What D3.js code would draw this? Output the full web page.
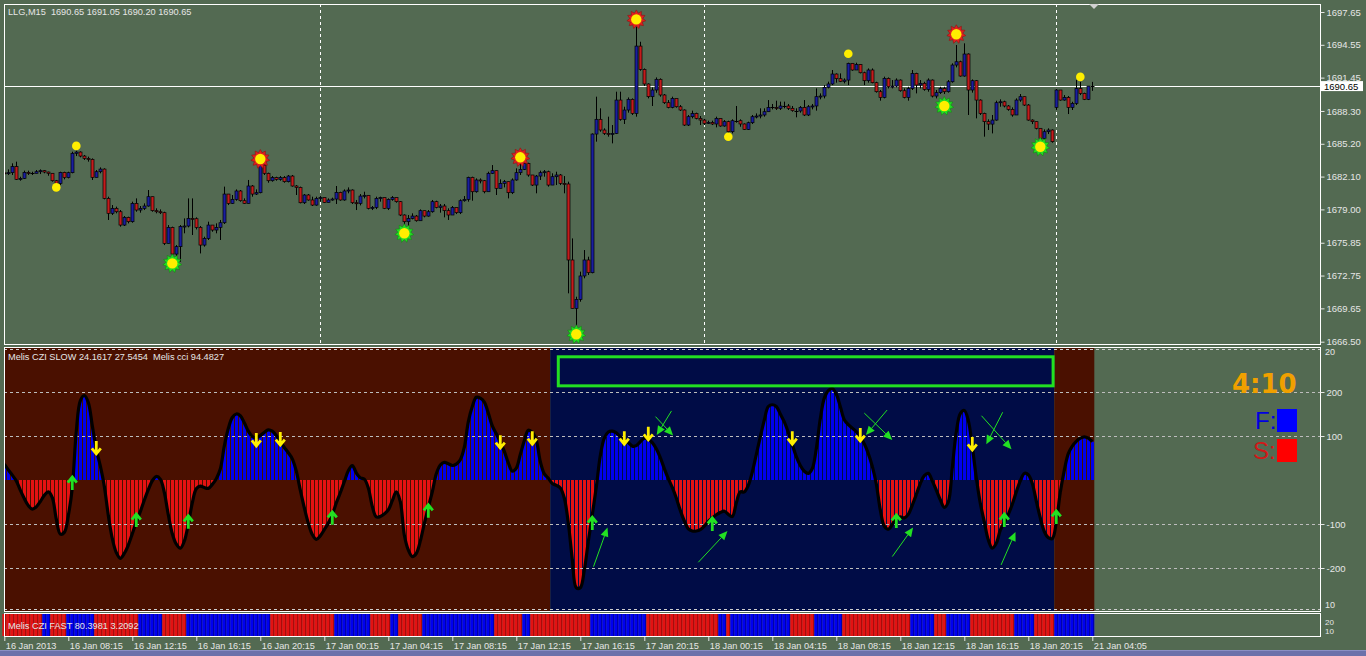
<!DOCTYPE html>
<html><head><meta charset="utf-8">
<script src="https://cdn.jsdelivr.net/npm/d3@7"></script>
<style>
html,body{margin:0;padding:0;background:#536a52;overflow:hidden}
svg{display:block}
</style></head><body>
<svg id="c" width="1366" height="656"></svg>
<script>
// ---------- DATA ----------
const headerText = "LLG,M15  1690.65 1691.05 1690.20 1690.65";
const slowText = "Melis CZI SLOW 24.1617 27.5454  Melis cci 94.4827";
const fastText = "Melis CZI FAST 80.3981 3.2092";
const currentPrice = 1690.65;
const firstOpen = 1682.45;
const openGaps = [[263, 1688.64]];

const closes = [
1682.41,1682.47,1683.04,1681.84,1681.93,1682.50,1682.41,1682.41,1682.56,1682.66,
1682.53,1682.41,1681.71,1681.46,1682.50,1682.00,1682.47,1684.30,1684.42,1684.04,
1683.82,1683.73,1682.03,1682.56,1682.81,1680.04,1678.63,1679.10,1678.78,1677.52,
1678.25,1677.84,1679.57,1678.94,1679.10,1679.32,1680.20,1678.88,1678.78,1678.69,
1675.79,1677.30,1674.78,1675.48,1677.37,1677.43,1678.15,1678.12,1677.30,1675.63,
1676.26,1677.52,1677.05,1677.30,1677.74,1680.45,1679.57,1679.95,1680.74,1679.82,
1679.57,1681.21,1680.45,1680.58,1683.19,1682.41,1681.71,1682.00,1681.84,1682.00,
1681.62,1682.15,1681.21,1681.08,1679.63,1680.36,1679.89,1679.41,1680.04,1680.11,
1679.66,1679.89,1679.98,1680.61,1679.89,1680.74,1680.83,1679.63,1679.57,1680.26,
1680.33,1679.10,1679.19,1680.04,1680.11,1679.10,1679.95,1680.11,1679.73,1678.47,
1677.84,1678.15,1678.37,1677.93,1678.88,1678.37,1678.78,1679.73,1679.19,1679.32,
1678.88,1678.47,1679.19,1678.69,1679.82,1679.95,1682.03,1680.67,1681.78,1681.71,
1680.67,1682.41,1682.66,1680.99,1681.46,1681.62,1680.58,1681.78,1682.47,1682.78,
1683.35,1682.25,1681.30,1682.15,1682.47,1682.56,1681.30,1682.09,1682.25,1681.46,
1681.40,1674.22,1669.65,1670.50,1672.71,1674.22,1673.02,1686.12,1687.51,1686.50,
1686.18,1686.12,1686.18,1689.33,1687.51,1688.39,1689.40,1688.07,1694.43,1692.23,
1690.85,1689.65,1690.28,1691.29,1689.81,1689.08,1688.64,1689.49,1688.70,1688.39,
1686.97,1687.76,1688.07,1687.60,1687.44,1687.13,1687.22,1687.07,1687.60,1686.88,
1687.29,1686.34,1687.38,1687.38,1687.07,1686.56,1687.19,1687.76,1687.82,1687.92,
1688.23,1688.64,1688.64,1688.55,1688.77,1688.77,1688.55,1688.33,1688.30,1688.64,
1687.92,1688.70,1688.77,1689.65,1689.71,1690.53,1690.85,1691.79,1691.35,1691.10,
1691.22,1692.80,1692.17,1692.70,1691.91,1691.16,1692.17,1690.97,1690.12,1689.58,
1691.38,1690.59,1690.65,1691.22,1690.21,1689.58,1690.43,1691.85,1690.75,1690.91,
1690.34,1691.22,1689.71,1690.03,1690.43,1690.12,1691.06,1692.64,1692.95,1691.60,
1693.68,1690.28,1691.16,1689.33,1688.07,1687.29,1687.06,1687.44,1689.08,1689.17,
1688.77,1688.45,1687.92,1689.33,1689.65,1688.86,1687.44,1687.29,1686.66,1685.71,
1686.34,1686.50,1685.40,1690.28,1689.33,1689.58,1688.64,1689.02,1690.43,1689.96,
1689.40,1690.65,1690.65];

const highs = [
1682.72,1682.78,1683.35,1683.51,1682.09,1682.66,1682.66,1682.56,1682.72,1682.78,
1682.72,1682.56,1682.41,1681.78,1682.56,1682.56,1682.56,1684.45,1684.55,1684.48,
1684.14,1683.98,1683.82,1682.72,1682.97,1682.88,1680.20,1679.41,1679.26,1678.94,
1678.37,1678.31,1679.73,1680.04,1679.32,1679.57,1680.83,1680.20,1679.10,1679.00,
1678.78,1677.52,1677.37,1675.63,1677.52,1678.15,1680.04,1680.04,1678.25,1677.43,
1676.42,1677.84,1677.52,1677.68,1678.00,1681.15,1680.45,1680.36,1680.89,1680.83,
1680.04,1681.78,1681.30,1680.89,1683.51,1683.35,1682.47,1682.15,1682.09,1682.15,
1682.15,1682.25,1682.25,1681.30,1681.15,1680.45,1680.45,1680.20,1680.20,1680.26,
1680.11,1680.04,1680.11,1681.21,1680.67,1680.89,1681.08,1680.89,1679.89,1680.45,
1680.67,1680.36,1679.32,1680.20,1680.20,1680.04,1680.04,1680.26,1680.11,1679.79,
1678.53,1678.47,1678.63,1678.47,1679.00,1678.88,1678.94,1679.89,1679.82,1679.51,
1679.51,1679.10,1679.32,1679.19,1679.95,1680.26,1682.09,1682.09,1681.93,1681.93,
1681.78,1682.56,1683.19,1682.56,1681.84,1681.78,1681.62,1681.93,1682.88,1683.51,
1683.44,1683.41,1682.25,1682.25,1682.66,1682.72,1682.66,1682.41,1682.56,1682.34,
1682.15,1681.62,1676.26,1670.75,1673.12,1675.16,1674.53,1686.18,1689.65,1688.55,
1686.66,1687.76,1686.97,1690.12,1690.12,1688.70,1689.58,1689.49,1696.26,1694.84,
1692.32,1690.91,1690.53,1691.47,1691.38,1689.90,1689.33,1689.65,1689.49,1688.86,
1688.45,1687.92,1688.33,1688.14,1687.82,1687.60,1687.38,1687.38,1687.76,1687.38,
1687.44,1687.38,1687.51,1688.77,1687.51,1687.13,1687.29,1687.92,1688.07,1688.55,
1688.55,1689.33,1688.96,1689.27,1689.18,1689.18,1688.96,1688.77,1688.55,1688.77,
1689.33,1688.86,1688.96,1690.43,1689.96,1690.75,1691.07,1692.17,1691.85,1691.85,
1691.38,1692.86,1692.73,1692.86,1692.73,1692.01,1692.32,1692.32,1691.06,1690.28,
1691.54,1691.47,1691.22,1691.38,1691.28,1690.43,1690.59,1692.17,1691.91,1691.22,
1691.06,1691.38,1691.28,1690.28,1690.59,1690.59,1691.22,1692.80,1694.53,1693.05,
1694.69,1693.74,1691.28,1691.22,1689.40,1688.14,1687.51,1687.92,1689.27,1689.40,
1689.27,1688.86,1688.64,1689.49,1689.90,1689.65,1688.95,1687.51,1687.29,1686.50,
1686.56,1686.66,1686.56,1690.43,1690.28,1689.80,1689.71,1689.17,1691.22,1691.06,
1690.03,1690.65,1691.05];

const lows = [
1682.09,1682.25,1682.25,1681.78,1681.71,1681.87,1682.25,1682.25,1682.41,1682.34,
1682.41,1682.18,1681.62,1681.30,1681.30,1681.84,1681.93,1682.41,1684.04,1683.92,
1683.67,1683.51,1681.78,1682.09,1682.41,1679.95,1678.00,1678.47,1678.63,1677.37,
1677.43,1677.68,1677.74,1678.78,1678.69,1678.94,1679.26,1678.78,1678.63,1678.56,
1675.63,1675.79,1673.90,1674.06,1674.06,1676.74,1677.30,1676.58,1677.11,1674.84,
1675.48,1676.11,1676.89,1676.74,1676.11,1677.62,1679.41,1679.51,1679.82,1679.73,
1679.51,1679.57,1680.20,1680.36,1680.52,1682.25,1681.52,1681.62,1681.71,1681.71,
1681.52,1681.55,1681.15,1680.36,1679.57,1679.51,1679.82,1679.32,1679.35,1679.73,
1679.60,1679.73,1679.82,1679.51,1679.82,1679.82,1680.52,1679.51,1678.94,1679.38,
1680.04,1679.00,1678.94,1679.03,1679.73,1679.03,1678.94,1679.82,1679.63,1678.37,
1677.52,1677.37,1678.06,1677.84,1678.00,1678.25,1678.31,1678.69,1679.10,1678.69,
1678.25,1678.00,1678.47,1678.56,1678.56,1679.73,1679.73,1679.82,1680.58,1681.46,
1680.52,1680.67,1682.34,1680.36,1680.99,1681.08,1680.04,1680.45,1681.71,1682.25,
1682.72,1682.09,1681.21,1680.52,1681.78,1682.09,1681.15,1681.30,1681.30,1681.30,
1680.52,1671.07,1669.65,1667.76,1670.28,1672.49,1672.80,1672.96,1685.40,1686.34,
1686.03,1685.87,1685.24,1686.12,1687.38,1687.07,1688.14,1687.92,1687.76,1692.10,
1690.66,1689.49,1688.77,1690.02,1689.65,1688.96,1688.55,1688.55,1688.61,1688.30,
1686.88,1686.88,1687.60,1687.51,1686.97,1686.97,1687.07,1686.97,1686.75,1686.81,
1686.81,1686.25,1686.18,1687.19,1686.81,1686.50,1686.50,1687.07,1687.60,1687.60,
1687.76,1688.23,1688.45,1688.39,1688.39,1688.55,1688.39,1688.23,1687.70,1688.14,
1687.82,1687.82,1688.45,1688.33,1689.40,1689.49,1690.43,1690.75,1690.97,1691.03,
1690.91,1690.75,1692.10,1692.17,1691.85,1690.75,1690.97,1690.91,1690.03,1689.27,
1689.49,1690.43,1690.43,1690.53,1690.12,1689.49,1689.27,1690.28,1689.96,1690.43,
1690.21,1690.12,1689.58,1689.49,1689.90,1689.90,1690.03,1690.97,1692.42,1691.54,
1691.54,1687.92,1690.03,1687.60,1687.92,1685.87,1686.50,1686.18,1687.38,1688.70,
1688.64,1688.32,1687.76,1688.07,1689.17,1688.77,1687.38,1687.06,1686.56,1685.55,
1685.49,1686.12,1685.30,1688.40,1689.27,1689.27,1688.01,1688.39,1688.86,1689.80,
1689.33,1689.33,1690.20];

// CZI SLOW oscillator value per bar
const osc = [
36,23,11,-2,-23,-42,-58,-66,-61,-49,
-35,-27,-40,-89,-123,-119,-81,-17,111,180,
192,176,123,70,32,-14,-80,-133,-165,-178,
-167,-148,-122,-95,-72,-46,-22,-2,8,2,
-28,-79,-122,-146,-155,-139,-100,-52,-20,-14,
-17,-19,-10,3,25,77,117,142,150,146,
130,111,99,96,101,108,114,111,101,87,
74,62,48,20,-23,-63,-98,-124,-135,-127,
-113,-98,-79,-52,-29,-4,21,33,16,5,
2,-18,-60,-84,-83,-77,-68,-47,-27,-49,
-125,-159,-174,-167,-139,-99,-62,-27,14,34,
40,37,33,36,46,74,132,167,188,186,
177,152,123,105,86,65,39,20,27,58,
89,113,108,90,42,14,4,-8,-12,-18,
-41,-98,-180,-245,-245,-205,-140,-79,-16,55,
95,109,111,107,98,90,85,77,78,87,
95,93,85,71,51,26,3,-17,-41,-69,
-93,-111,-116,-116,-113,-105,-94,-86,-79,-74,
-71,-78,-83,-52,-27,-27,-12,18,58,98,
136,167,171,167,150,132,108,80,53,33,
20,15,26,71,139,186,203,208,195,167,
137,126,118,110,98,82,60,31,-9,-68,
-105,-112,-101,-87,-84,-86,-78,-57,-33,-8,
10,15,-2,-23,-45,-62,-50,28,109,151,
158,135,76,5,-53,-95,-136,-155,-144,-114,
-96,-78,-55,-27,-2,15,12,-8,-48,-86,
-117,-131,-133,-96,-28,22,60,77,88,95,
98,95,87];

// background regimes of the slow panel [firstBar, lastBar, kind]
const zones = [[0,136,"bear"],[137,262,"bull"],[263,272,"bear"]];
// CZI FAST strip runs [firstBar, lastBar, state]
const fastRuns = [[0,9,"S"],[10,11,"F"],[12,15,"S"],[16,22,"F"],[23,33,"S"],[34,39,"F"],[40,45,"S"],[46,66,"F"],
[67,82,"S"],[83,91,"F"],[92,96,"S"],[97,98,"F"],[99,104,"S"],[105,122,"F"],[123,129,"S"],[130,131,"F"],
[132,146,"S"],[147,160,"F"],[161,178,"S"],[179,180,"F"],[181,181,"S"],[182,196,"F"],[197,202,"S"],[203,209,"F"],
[210,226,"S"],[227,232,"F"],[233,235,"S"],[236,241,"F"],[242,252,"S"],[253,257,"F"],[258,262,"S"],[263,272,"F"]];

const redSuns = [[64,1683.76],[129,1683.92],[158,1696.95],[238,1695.55]];
const greenSuns = [[42,1673.90],[100,1676.75],[143,1667.20],[235,1688.77],[259,1684.92]];
const yellowDots = [[13,1681.08],[18,1685.00],[181,1685.86],[211,1693.70],[269,1691.52]];

const downArrows = [[23,73],[63,91],[69,93],[124,86],[132,95],[155,95],[161,105],[197,95],[214,102],[242,82]];
const upArrows = [[17,-7],[33,-91],[46,-95],[82,-86],[106,-70],[147,-98],[177,-100],[223,-93],[250,-91],[263,-84]];
// [bar1, value1, bar2, value2] arrow points to second
const trendArrows = [
[147.3,-197,150.8,-108],[173.5,-187,180.8,-116],[222.0,-174,227.2,-108],[249.2,-193,252.8,-118],
[162.8,144,167.2,101],[166.8,157,163.1,102],[215.0,152,222.0,91],[220.7,159,215.4,102],
[244.3,146,251.8,70],[249.6,154,245.5,81]];
const signalBox = [138.5, 262.2, 280, 214];

const priceTicks = [1697.65,1694.55,1691.45,1688.30,1685.20,1682.10,1679.00,1675.85,1672.75,1669.65,1666.50];
const oscTicks = [200,100,-100,-200];
const gridBars = [79,175,263];
const timeTickBars = [0,16,32,48,64,80,96,112,128,144,160,176,192,208,224,240,256,272];
const timeLabels = ["16 Jan 2013","16 Jan 08:15","16 Jan 12:15","16 Jan 16:15","16 Jan 20:15","17 Jan 00:15",
"17 Jan 04:15","17 Jan 08:15","17 Jan 12:15","17 Jan 16:15","17 Jan 20:15","18 Jan 00:15","18 Jan 04:15",
"18 Jan 08:15","18 Jan 12:15","18 Jan 16:15","18 Jan 20:15","21 Jan 04:05"];
const clockText = "4:10";

// ---------- DRAW ----------
const FONT = "'Liberation Sans', Arial, sans-serif";
const TXT = "#e6e6e6";
const svg = d3.select("#c");
const x = d3.scaleLinear().domain([0, 272]).range([4.3, 1092.3]);
const yP = d3.scaleLinear().domain([1666.5, 1697.65]).range([341.7, 12]);
const yO = d3.scaleLinear().domain([-300, 300]).range([612, 348]);

svg.append("rect").attr("width",1366).attr("height",656).attr("fill","#536a52");

const defs = svg.append("defs");
defs.append("clipPath").attr("id","cp1").append("rect").attr("x",4.5).attr("y",4.5).attr("width",1316).attr("height",340);
defs.append("clipPath").attr("id","cp2").append("rect").attr("x",4.5).attr("y",347.5).attr("width",1316).attr("height",264);

// ---- price panel ----
const gP = svg.append("g").attr("clip-path","url(#cp1)");
gP.selectAll("line.vg").data(gridBars).join("line")
  .attr("x1",d=>Math.round(x(d))+0.5).attr("x2",d=>Math.round(x(d))+0.5).attr("y1",4).attr("y2",345)
  .attr("stroke","#ffffff").attr("stroke-dasharray","3,3");
gP.append("line").attr("x1",4).attr("x2",1321).attr("y1",Math.round(yP(currentPrice))+0.5).attr("y2",Math.round(yP(currentPrice))+0.5)
  .attr("stroke","#ffffff").attr("stroke-width",1);

const gapMap = new Map(openGaps);
const bars = closes.map((c,i)=>{
  const o = i===0 ? firstOpen : (gapMap.has(i) ? gapMap.get(i) : closes[i-1]);
  return {i, o, c, h: Math.max(highs[i], o, c), l: Math.min(lows[i], o, c)};
});
const cg = gP.append("g");
cg.selectAll("line.w").data(bars).join("line")
  .attr("x1",d=>Math.round(x(d.i))+0.5).attr("x2",d=>Math.round(x(d.i))+0.5)
  .attr("y1",d=>yP(d.h)).attr("y2",d=>yP(d.l)).attr("stroke","#000").attr("stroke-width",1);
cg.selectAll("rect.b").data(bars.filter(d=>Math.abs(d.o-d.c)>=0.03)).join("rect")
  .attr("x",d=>Math.round(x(d.i))-1).attr("width",3)
  .attr("y",d=>yP(Math.max(d.o,d.c))).attr("height",d=>Math.max(1,Math.abs(yP(d.o)-yP(d.c))))
  .attr("fill",d=>d.c>d.o?"#1a1ea0":"#c41c1c").attr("stroke","#000").attr("stroke-width",0.7);
cg.selectAll("line.dj").data(bars.filter(d=>Math.abs(d.o-d.c)<0.03)).join("line")
  .attr("x1",d=>Math.round(x(d.i))-1.5).attr("x2",d=>Math.round(x(d.i))+2.5)
  .attr("y1",d=>Math.round(yP(d.c))+0.5).attr("y2",d=>Math.round(yP(d.c))+0.5).attr("stroke","#000");

function starPath(n, ro, ri){
  const pts=[]; for(let k=0;k<2*n;k++){const r=k%2?ri:ro; const a=Math.PI*k/n; pts.push([r*Math.sin(a),-r*Math.cos(a)]);}
  return d3.line()(pts)+"Z";
}
function suns(data, col, dark){
  const g = gP.selectAll(null).data(data).join("g").attr("transform",d=>`translate(${x(d[0])},${yP(d[1])})`);
  g.append("path").attr("d",starPath(11,9.5,6.5)).attr("fill",col).attr("stroke",dark).attr("stroke-width",0.6);
  g.append("circle").attr("r",5.2).attr("fill","#ffee00");
}
suns(redSuns,"#e02020","#901010");
suns(greenSuns,"#22dd22","#118811");
gP.selectAll("circle.yd").data(yellowDots).join("circle")
  .attr("cx",d=>x(d[0])).attr("cy",d=>yP(d[1])).attr("r",4.3).attr("fill","#ffee00");

svg.append("rect").attr("x",4.5).attr("y",4.5).attr("width",1316).attr("height",340)
  .attr("fill","none").attr("stroke","#ffffff");
svg.append("path").attr("d","M1089,4 L1099,4 L1094,9 Z").attr("fill","#d0d0d0");

const axP = svg.append("g").attr("transform","translate(1320.5,0)")
  .call(d3.axisRight(yP).tickValues(priceTicks).tickSize(4).tickPadding(2).tickFormat(d3.format(".2f")));
axP.select(".domain").remove();
axP.selectAll("line").attr("stroke","#e6e6e6");
axP.selectAll("text").attr("fill",TXT).style("font-family",FONT).style("font-size","9.5px");
// current price label
const cpy = yP(currentPrice);
svg.append("rect").attr("x",1321).attr("y",cpy-5).attr("width",42).attr("height",10).attr("fill","#ffffff");
svg.append("text").attr("x",1324).attr("y",cpy+3.5).text(d3.format(".2f")(currentPrice))
  .attr("fill","#000").style("font-family",FONT).style("font-size","9.5px");
svg.append("text").attr("x",8).attr("y",15).text(headerText).attr("fill",TXT)
  .style("font-family",FONT).style("font-size","9.2px").style("white-space","pre");

// ---- slow oscillator panel ----
const gO = svg.append("g").attr("clip-path","url(#cp2)");
gO.selectAll("rect.z").data(zones).join("rect")
  .attr("x",d=>x(d[0])-2).attr("width",d=>x(d[1])-x(d[0])+4).attr("y",348).attr("height",263)
  .attr("fill",d=>d[2]==="bear"?"#4a1000":"#000c46");
gO.selectAll("rect.h").data(osc).join("rect")
  .attr("x",(d,i)=>Math.round(x(i))-1).attr("width",3)
  .attr("y",d=>yO(Math.max(0,d))).attr("height",d=>Math.abs(yO(d)-yO(0)))
  .attr("fill",d=>d>=0?"#0000ee":"#e41212");
gO.selectAll("line.hg").data(oscTicks).join("line")
  .attr("x1",4).attr("x2",1320).attr("y1",d=>Math.round(yO(d))+0.5).attr("y2",d=>Math.round(yO(d))+0.5)
  .attr("stroke","#bdbdbd").attr("stroke-dasharray","3,3");
[349.5,609.5].forEach(yy=>gO.append("line").attr("x1",4).attr("x2",1320).attr("y1",yy).attr("y2",yy)
  .attr("stroke","#cfcfcf").attr("stroke-dasharray","3,3"));
gO.append("path").datum(osc)
  .attr("d",d3.line().x((d,i)=>x(i)).y(d=>yO(d)).curve(d3.curveCatmullRom.alpha(0.5)))
  .attr("fill","none").attr("stroke","#000").attr("stroke-width",3.2).attr("stroke-linejoin","round");
gO.append("rect").attr("x",x(signalBox[0])).attr("y",yO(signalBox[2]))
  .attr("width",x(signalBox[1])-x(signalBox[0])).attr("height",yO(signalBox[3])-yO(signalBox[2]))
  .attr("fill","none").attr("stroke","#22e022").attr("stroke-width",3);
// trend arrows
trendArrows.forEach(t=>{
  const x1=x(t[0]),y1=yO(t[1]),x2=x(t[2]),y2=yO(t[3]);
  const a=Math.atan2(y2-y1,x2-x1), L=9, Wd=4;
  const bx=x2-L*Math.cos(a), by=y2-L*Math.sin(a);
  gO.append("line").attr("x1",x1).attr("y1",y1).attr("x2",bx).attr("y2",by).attr("stroke","#22e022").attr("stroke-width",1);
  gO.append("path").attr("d",`M${x2},${y2} L${bx+Wd*Math.sin(a)},${by-Wd*Math.cos(a)} L${bx-Wd*Math.sin(a)},${by+Wd*Math.cos(a)} Z`)
    .attr("fill","#22e022");
});
gO.selectAll("path.da").data(downArrows).join("path")
  .attr("d",d=>{const cx=x(d[0]),cy=yO(d[1]);return `M${cx},${cy-7} L${cx},${cy+5} M${cx-4.5},${cy+0.5} L${cx},${cy+6} L${cx+4.5},${cy+0.5}`;})
  .attr("fill","none").attr("stroke","#ffee00").attr("stroke-width",2.8);
gO.selectAll("path.ua").data(upArrows).join("path")
  .attr("d",d=>{const cx=x(d[0]),cy=yO(d[1]);return `M${cx},${cy+7} L${cx},${cy-5} M${cx-4.5},${cy-0.5} L${cx},${cy-6} L${cx+4.5},${cy-0.5}`;})
  .attr("fill","none").attr("stroke","#22e022").attr("stroke-width",2.8);
svg.append("rect").attr("x",4.5).attr("y",347.5).attr("width",1316).attr("height",264)
  .attr("fill","none").attr("stroke","#ffffff");
const axO = svg.append("g").attr("transform","translate(1320.5,0)")
  .call(d3.axisRight(yO).tickValues(oscTicks).tickSize(4).tickPadding(2).tickFormat(d=>d));
axO.select(".domain").remove();
axO.selectAll("line").attr("stroke","#e6e6e6");
axO.selectAll("text").attr("fill",TXT).style("font-family",FONT).style("font-size","9.5px");
[["20",355],["10",608]].forEach(t=>svg.append("text").attr("x",1325).attr("y",t[1]).text(t[0])
  .attr("fill",TXT).style("font-family",FONT).style("font-size","9px"));
svg.append("text").attr("x",8).attr("y",360).text(slowText).attr("fill",TXT)
  .style("font-family",FONT).style("font-size","9.2px").style("white-space","pre");

// legend / clock
svg.append("text").attr("x",1232).attr("y",393).text(clockText).attr("fill","#f0a000")
  .style("font-family","'DejaVu Sans', sans-serif").style("font-weight","bold").style("font-size","26px");
svg.append("text").attr("x",1255).attr("y",429).text("F:").attr("fill","#0000e0").style("font-family",FONT).style("font-size","24px");
svg.append("rect").attr("x",1277).attr("y",409).attr("width",20).attr("height",23).attr("fill","#0000ff");
svg.append("text").attr("x",1253).attr("y",459).text("S:").attr("fill","#d01818").style("font-family",FONT).style("font-size","24px");
svg.append("rect").attr("x",1277).attr("y",439).attr("width",20).attr("height",23).attr("fill","#ff0000");

// ---- fast strip ----
const stripBars = [];
fastRuns.forEach(r=>{for(let i=r[0];i<=r[1];i++) stripBars.push({i, s:r[2]});});
const gS = svg.append("g");
gS.selectAll("rect.s").data(stripBars).join("rect")
  .attr("x",d=>x(d.i)-2).attr("width",4).attr("y",614).attr("height",22)
  .attr("fill",d=>d.s==="F"?"#0000f0":"#e41212");
gS.selectAll("rect.s2").data(stripBars).join("rect")
  .attr("x",d=>Math.round(x(d.i))+1).attr("width",0.8).attr("y",614).attr("height",22)
  .attr("fill",d=>d.s==="F"?"#00009a":"#9a0a0a");
svg.append("rect").attr("x",4.5).attr("y",613.5).attr("width",1316).attr("height",23)
  .attr("fill","none").attr("stroke","#ffffff");
svg.append("text").attr("x",8).attr("y",629).text(fastText).attr("fill",TXT)
  .style("font-family",FONT).style("font-size","9.2px");
[["20",624.5],["10",634]].forEach(t=>svg.append("text").attr("x",1325).attr("y",t[1]).text(t[0])
  .attr("fill",TXT).style("font-family",FONT).style("font-size","8px"));

// ---- time axis ----
const axT = svg.append("g").attr("transform","translate(0,637)")
  .call(d3.axisBottom(x).tickValues(timeTickBars).tickSize(4).tickPadding(1).tickFormat((d,i)=>timeLabels[i]));
axT.select(".domain").remove();
axT.selectAll("line").attr("stroke","#e6e6e6");
axT.selectAll("text").attr("fill",TXT).attr("text-anchor","start").attr("x",1)
  .style("font-family",FONT).style("font-size","9.2px");

// taskbar strip
svg.append("rect").attr("x",0).attr("y",651).attr("width",1366).attr("height",5).attr("fill","#6c71aa");
svg.append("line").attr("x1",0).attr("x2",1366).attr("y1",650.5).attr("y2",650.5).attr("stroke","#8a8fc4");
</script>
</body></html>
